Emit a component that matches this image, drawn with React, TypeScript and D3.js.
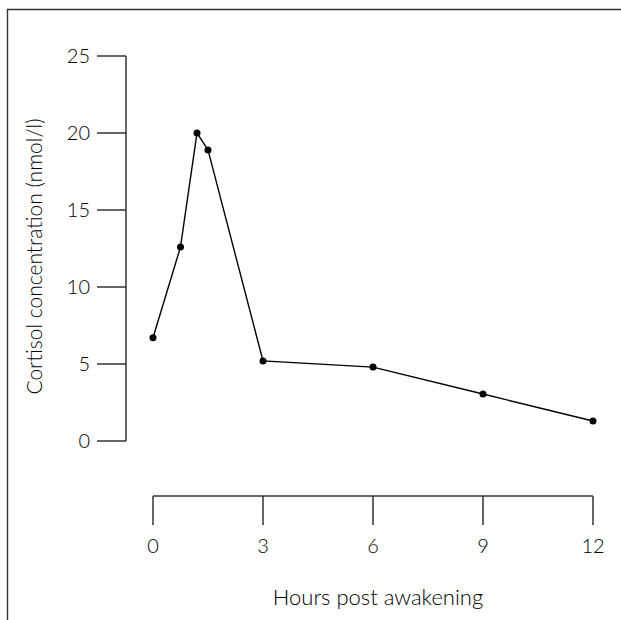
import React, { useEffect, useRef } from 'react';
import * as d3 from 'd3';

// hours post awakening and cortisol (nmol/l)
const hours = [0, 0.75, 1.2, 1.5, 3, 6, 9, 12];
const cortisol = [6.7, 12.6, 20, 18.9, 5.2, 4.8, 3.05, 1.3];
const xTicks = [0, 3, 6, 9, 12];
const yTicks = [0, 5, 10, 15, 20, 25];

const W = 621;
const H = 620;
const FONT = 'Lato, "Open Sans", sans-serif';

export default function App() {
    const ref = useRef<SVGSVGElement>(null);

    useEffect(() => {
        const svg = d3.select(ref.current);
        svg.selectAll('*').remove();

        const x = d3.scaleLinear().domain([0, 12]).range([153, 593]);
        const y = d3.scaleLinear().domain([0, 25]).range([441, 56]);

        // frame (left and top edges)
        svg.append('path')
            .attr('d', `M7.5,${H} V9.5 H${W}`)
            .attr('fill', 'none')
            .attr('stroke', '#333')
            .attr('stroke-width', 1.4);

        // y axis, drawn as a bracket offset from the plot
        const yAxis = svg.append('g').attr('transform', 'translate(126,0)');
        yAxis.append('line')
            .attr('y1', y(0)).attr('y2', y(25))
            .attr('stroke', '#333').attr('stroke-width', 1.5);
        yTicks.forEach(t => {
            yAxis.append('line')
                .attr('x1', -29).attr('x2', 0)
                .attr('y1', y(t)).attr('y2', y(t))
                .attr('stroke', '#333').attr('stroke-width', 1.5);
            yAxis.append('text')
                .attr('x', -36).attr('y', y(t))
                .attr('dy', '0.35em')
                .attr('text-anchor', 'end')
                .attr('font-family', FONT).attr('font-weight', 300)
                .attr('font-size', 20).attr('fill', '#000')
                .text(t);
        });

        // x axis below the plot
        const xAxis = svg.append('g').attr('transform', 'translate(0,496)');
        xAxis.append('line')
            .attr('x1', x(0)).attr('x2', x(12))
            .attr('stroke', '#333').attr('stroke-width', 1.5);
        xTicks.forEach(t => {
            xAxis.append('line')
                .attr('x1', x(t)).attr('x2', x(t))
                .attr('y1', 0).attr('y2', 29)
                .attr('stroke', '#333').attr('stroke-width', 1.5);
            xAxis.append('text')
                .attr('x', x(t)).attr('y', 57)
                .attr('text-anchor', 'middle')
                .attr('font-family', FONT).attr('font-weight', 300)
                .attr('font-size', 20).attr('fill', '#000')
                .text(t);
        });

        svg.append('text')
            .attr('x', 378).attr('y', 605)
            .attr('text-anchor', 'middle')
            .attr('font-family', FONT).attr('font-weight', 300)
            .attr('font-size', 22).attr('fill', '#000')
            .text('Hours post awakening');

        svg.append('text')
            .attr('transform', `translate(42,${(y(0) + y(25)) / 2 + 8}) rotate(-90)`)
            .attr('text-anchor', 'middle')
            .attr('font-family', FONT).attr('font-weight', 300)
            .attr('font-size', 21).attr('fill', '#000')
            .text('Cortisol concentration (nmol/l)');

        const data = hours.map((h, i) => ({ h, c: cortisol[i] }));
        const line = d3.line<{ h: number; c: number }>()
            .x(d => x(d.h))
            .y(d => y(d.c));

        svg.append('path')
            .datum(data)
            .attr('d', line)
            .attr('fill', 'none')
            .attr('stroke', '#000')
            .attr('stroke-width', 1.4);

        svg.selectAll('circle')
            .data(data)
            .enter()
            .append('circle')
            .attr('cx', d => x(d.h))
            .attr('cy', d => y(d.c))
            .attr('r', 3.5)
            .attr('fill', '#000');
    }, []);

    return (
        <svg
            ref={ref}
            width={W}
            height={H}
            style={{ position: 'absolute', left: 0, top: 0, background: '#fff' }}
        />
    );
}
